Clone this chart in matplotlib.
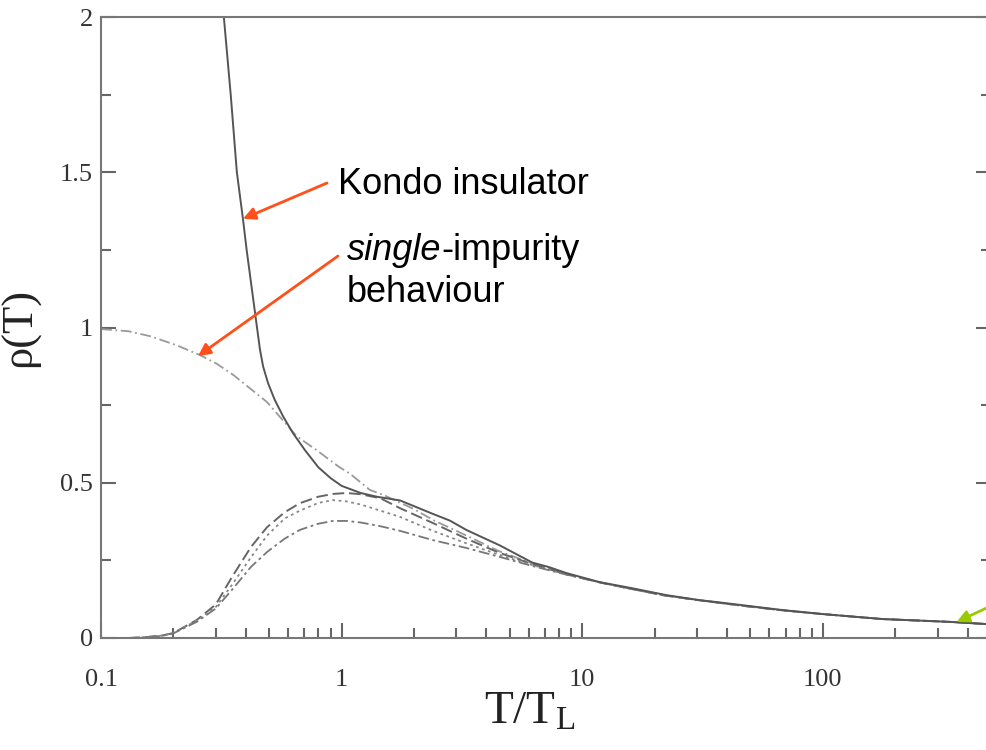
import numpy as np
import matplotlib
matplotlib.use("Agg")
import matplotlib.pyplot as plt
from matplotlib.ticker import FixedLocator, FixedFormatter, LogLocator, NullFormatter

plt.rcParams['font.family'] = ['Liberation Serif', 'DejaVu Serif']
plt.rcParams['mathtext.fontset'] = 'custom'
plt.rcParams['mathtext.rm'] = 'Liberation Serif'

# Kondo insulator (solid)
t_kondo = [0.305, 0.324, 0.346, 0.367, 0.389, 0.403, 0.445, 0.458, 0.472, 0.495, 0.528, 0.572,
           0.629, 0.704, 0.8, 0.9, 1.0, 1.2, 1.4, 1.75, 2.39, 2.82, 3.3, 4.55, 6.2, 7.3, 8.6,
           11.8, 16.2, 22.4, 30.7, 36, 68, 100, 177, 336, 500]
rho_kondo = [2.15, 2.0, 1.75, 1.5, 1.35, 1.25, 1.0, 0.928, 0.874, 0.82, 0.766, 0.713,
             0.659, 0.605, 0.55, 0.515, 0.49, 0.467, 0.455, 0.443, 0.40, 0.378, 0.348, 0.298, 0.243, 0.228, 0.209,
             0.18, 0.16, 0.138, 0.122, 0.116, 0.09, 0.077, 0.061, 0.052, 0.044]

# single-impurity curve
t_single = [0.1, 0.13, 0.16, 0.206, 0.258, 0.303, 0.355, 0.416, 0.488, 0.61, 0.65, 0.787, 0.98, 1.08,
            1.31, 1.5, 2.0, 2.4, 3.3, 4.5, 6.2, 8.6]
rho_single = [0.995, 0.988, 0.972, 0.943, 0.911, 0.883, 0.847, 0.804, 0.761, 0.675, 0.65, 0.605, 0.55, 0.53,
              0.477, 0.46, 0.415, 0.38, 0.33, 0.28, 0.24, 0.207]

# metallic lattice curves
t_lat = [0.13, 0.15, 0.18, 0.2, 0.25, 0.3, 0.35, 0.42, 0.49, 0.58, 0.67, 0.8, 0.92, 1.05, 1.2,
         1.45, 1.75, 2.4, 3.3, 4.5, 6.2, 8.6, 12, 16, 22, 31, 45, 68, 100, 177, 336, 500]
tail = [0.178, 0.158, 0.137, 0.121, 0.105, 0.089, 0.077, 0.061, 0.052, 0.044]
rho_a = [0.0, 0.002, 0.008, 0.016, 0.058, 0.108, 0.196, 0.293, 0.357, 0.405, 0.434, 0.455, 0.464,
         0.467, 0.463, 0.45, 0.418, 0.37, 0.32, 0.275, 0.238, 0.205] + tail
rho_b = [0.0, 0.002, 0.008, 0.016, 0.056, 0.10, 0.171, 0.26, 0.33, 0.385, 0.41, 0.435, 0.444,
         0.44, 0.43, 0.41, 0.39, 0.345, 0.305, 0.268, 0.235, 0.205] + tail
rho_c = [0.0, 0.002, 0.007, 0.015, 0.052, 0.095, 0.155, 0.229, 0.277, 0.32, 0.348, 0.368, 0.377,
         0.377, 0.372, 0.36, 0.345, 0.315, 0.29, 0.262, 0.232, 0.204] + tail

xticks = [0.1, 1, 10, 100]
xticklabels = ['0.1', '1', '10', '100']
yticks = [0, 0.5, 1, 1.5, 2]
yticklabels = ['0', '0.5', '1', '1.5', '2']

fig = plt.figure(figsize=(9.86, 7.5), dpi=100)
ax = fig.add_axes([101 / 986, 112 / 750, 890 / 986, 621 / 750])

ax.plot(t_single, rho_single, color='#9a9a9a', lw=1.3, ls=(0, (6, 2, 1, 2)))
ax.plot(t_lat, rho_a, color='#666666', lw=1.4, ls=(0, (6, 2.5)))
ax.plot(t_lat, rho_b, color='#888888', lw=1.3, ls=(0, (1.5, 2)))
ax.plot(t_lat, rho_c, color='#777777', lw=1.3, ls=(0, (6, 2, 1.5, 2)))
ax.plot(t_kondo, rho_kondo, color='#555555', lw=1.4)

ax.set_xscale('log')
ax.set_xlim(0.1, 500)
ax.set_ylim(0, 2)

ax.xaxis.set_major_locator(FixedLocator(xticks))
ax.xaxis.set_major_formatter(FixedFormatter(xticklabels))
ax.xaxis.set_minor_locator(LogLocator(base=10, subs=np.arange(2, 10)))
ax.xaxis.set_minor_formatter(NullFormatter())
ax.yaxis.set_major_locator(FixedLocator(yticks))
ax.yaxis.set_major_formatter(FixedFormatter(yticklabels))
ax.yaxis.set_minor_locator(FixedLocator([0.25, 0.75, 1.25, 1.75]))

for s in ax.spines.values():
    s.set_color('#777777')
    s.set_linewidth(1.5)
ax.tick_params(which='both', direction='in', colors='#666666', width=1.5,
               top=False, right=True, labelcolor='#333333', labelsize=19)
ax.tick_params(which='major', length=11)
ax.tick_params(which='minor', length=7)
ax.tick_params(axis='x', which='major', pad=22)
ax.tick_params(axis='y', which='major', pad=6)

ax.set_ylabel('ρ(T)', fontsize=32, color='#222222')
ax.yaxis.set_label_coords(-0.068, 0.5)
ax.set_xlabel(r'$\mathrm{T/T_L}$', fontsize=34, color='#222222')
ax.xaxis.set_label_coords(0.482, -0.085)

orange = '#ff4f1a'
sans = ['Liberation Sans', 'DejaVu Sans']
fig.text(338, 750 - 194, 'Kondo insulator', fontsize=26, family=sans, va='baseline',
         transform=None)
t1 = fig.text(347, 750 - 260, 'single', fontsize=26, family=sans, style='italic',
              va='baseline', transform=None)
fig.canvas.draw()
bb = t1.get_window_extent()
fig.text(bb.x1, 750 - 260, '-impurity', fontsize=26, family=sans, va='baseline',
         transform=None)
fig.text(347, 750 - 302, 'behaviour', fontsize=26, family=sans, va='baseline',
         transform=None)

arrow = dict(arrowstyle='-|>', color=orange, lw=2, mutation_scale=18, shrinkA=0, shrinkB=0)
ax.annotate('', xy=(0.389, 1.35), xycoords='data', xytext=(327, 750 - 183),
            textcoords='figure pixels', arrowprops=arrow)
ax.annotate('', xy=(0.253, 0.908), xycoords='data', xytext=(338, 750 - 256),
            textcoords='figure pixels', arrowprops=arrow)
ax.annotate('', xy=(360, 0.0515), xycoords='data', xytext=(995, 750 - 604),
            textcoords='figure pixels', annotation_clip=False,
            arrowprops=dict(arrow, color='#99cc00'))

fig.savefig('out.png', dpi=100)
